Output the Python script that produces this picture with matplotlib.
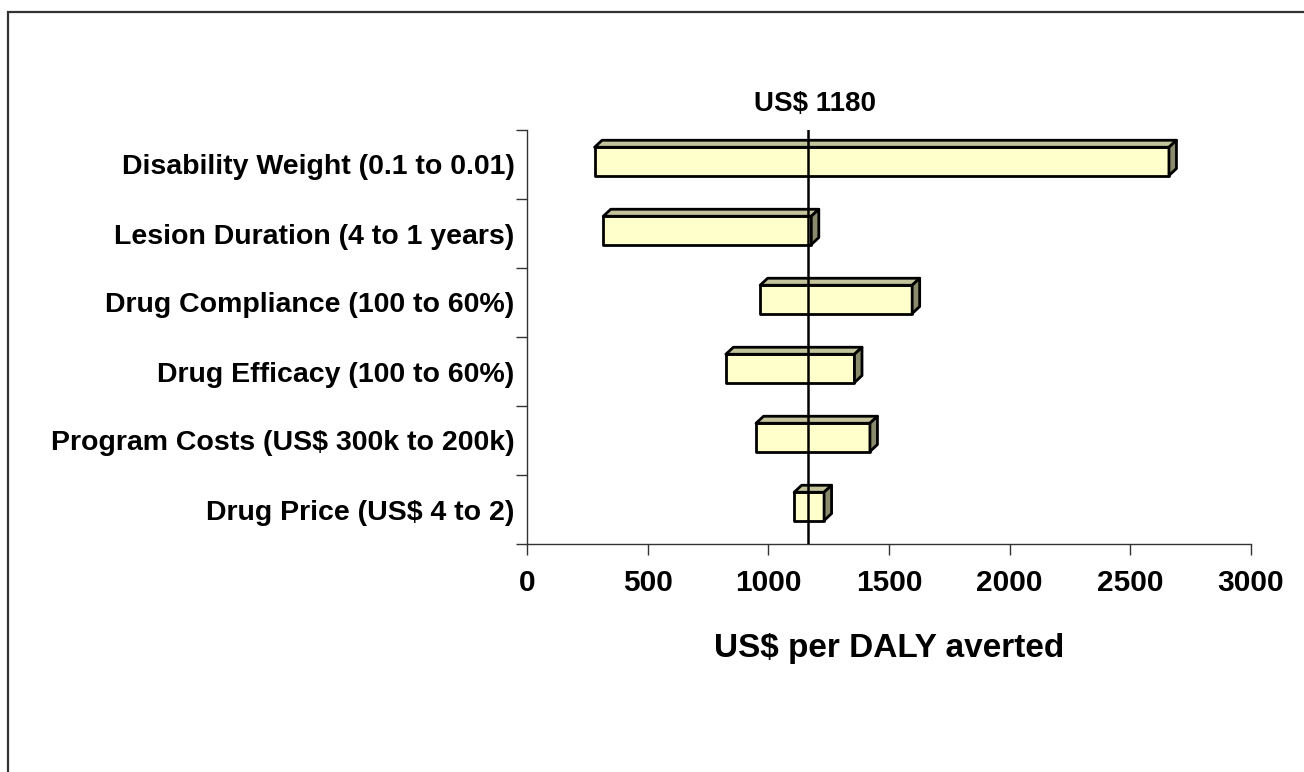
import numpy as np
import matplotlib
matplotlib.use("Agg")
import matplotlib.pyplot as plt
from matplotlib.patches import Polygon, Rectangle

plt.rcParams['font.family'] = ['Liberation Sans', 'DejaVu Sans']
plt.rcParams['font.weight'] = 'bold'

# data (US$ per DALY averted, low/high end of each sensitivity range)
categories = ["Disability Weight (0.1 to 0.01)",
              "Lesion Duration (4 to 1 years)",
              "Drug Compliance (100 to 60%)",
              "Drug Efficacy (100 to 60%)",
              "Program Costs (US$ 300k to 200k)",
              "Drug Price (US$ 4 to 2)"]
low_vals = [280, 316, 966, 824, 949, 1107]
high_vals = [2660, 1178, 1596, 1357, 1421, 1231]
base_value = 1165
base_label = "US$ 1180"
xticks = [0, 500, 1000, 1500, 2000, 2500, 3000]

W, H = 1304, 772
fig = plt.figure(figsize=(W / 100, H / 100), dpi=100)
ax = fig.add_axes([527 / W, 1 - 544 / H, (1251 - 527) / W, (544 - 130) / H])

xmin, xmax = 0, 3000
n = len(categories)
ax.set_xlim(xmin, xmax)
ax.set_ylim(n - 0.5, -0.5)

# 3D look: depth offsets in data units (about 7 px each way)
ax_w_px = 1251 - 527
ax_h_px = 544 - 130
dx = 7.5 * (xmax - xmin) / ax_w_px
dy = 7 * n / ax_h_px
bar_h = 0.41
shift = 0.045

face_col = "#FFFFCC"
top_col = "#C4C49C"
side_col = "#8A8A6C"
edge_kw = dict(edgecolor="black", lw=2.0, joinstyle="round", zorder=3)

ys = np.arange(n)
for y, lo, hi in zip(ys, low_vals, high_vals):
    yc = y - shift
    yt = yc - bar_h / 2
    yb = yc + bar_h / 2
    ax.add_patch(Rectangle((lo, yt), hi - lo, bar_h, facecolor=face_col, **edge_kw))
    top = Polygon([(lo, yt), (hi, yt), (hi + dx, yt - dy), (lo + dx, yt - dy)],
                  closed=True, facecolor=top_col, **edge_kw)
    side = Polygon([(hi, yt), (hi, yb), (hi + dx, yb - dy), (hi + dx, yt - dy)],
                   closed=True, facecolor=side_col, **edge_kw)
    ax.add_patch(top)
    ax.add_patch(side)

ax.axvline(base_value, color="black", lw=1.8, zorder=5)
ax.text(base_value + 27, -0.5 - 0.38, base_label, ha="center", va="center",
        fontsize=20, fontweight="bold", clip_on=False)

# axes styling
for s in ["top", "right"]:
    ax.spines[s].set_visible(False)
for s in ["left", "bottom"]:
    ax.spines[s].set_color("#333333")
    ax.spines[s].set_linewidth(1.0)

ax.set_xticks(xticks)
ax.set_xticklabels([str(t) for t in xticks], fontsize=21.5, fontweight="bold")
ax.tick_params(axis="x", direction="out", length=8, width=1, color="#333333", pad=10)

ax.set_yticks(np.arange(-0.5, n, 1.0))
ax.set_yticklabels([])
ax.tick_params(axis="y", which="major", direction="out", length=8, width=1, color="#333333")
ax.set_yticks(ys, minor=True)
ax.set_yticklabels(categories, minor=True, fontsize=20.5, fontweight="bold")
ax.tick_params(axis="y", which="minor", length=0, pad=9)

ax.set_xlabel("US$ per DALY averted", fontsize=24, fontweight="bold", labelpad=26)

# outer chart border (runs off the right and bottom edges)
fig.patches.append(Rectangle((8 / W, -0.2), 1.2, 1.2 - 12 / H, transform=fig.transFigure,
                             fill=False, edgecolor="#333333", lw=1.6, clip_on=False))

fig.savefig("out.png", dpi=100, facecolor="white")
